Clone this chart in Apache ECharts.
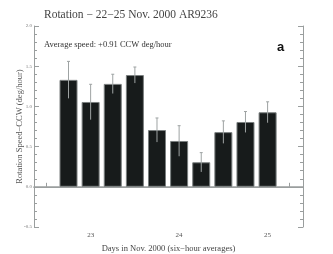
<!DOCTYPE html>
<html><head><meta charset="utf-8">
<script src="https://cdn.jsdelivr.net/npm/echarts@6/dist/echarts.min.js"></script>
<style>html,body{margin:0;padding:0;background:#fff}#c{width:333px;height:254px}</style>
</head><body><div id="c"></div>
<script>
// six-hour averages (day of Nov. 2000)
var days = [22.75, 23.0, 23.25, 23.5, 23.75, 24.0, 24.25, 24.5, 24.75, 25.0];
var speeds = [1.33, 1.055, 1.28, 1.39, 0.706, 0.57, 0.305, 0.68, 0.806, 0.927];
var errors = [0.23, 0.22, 0.12, 0.10, 0.15, 0.19, 0.12, 0.14, 0.13, 0.13];
var yTicks = [-0.5, 0.0, 0.5, 1.0, 1.5, 2.0];
var dayLabels = [23, 24, 25];
var xTicks = [22.5, 22.75, 23, 23.25, 23.5, 23.75, 24, 24.25, 24.5, 24.75, 25, 25.25];

var serif = 'Liberation Serif';
var axisGray = '#9a9e9e';
var chart = echarts.init(document.getElementById('c'), null, {renderer: 'canvas'});
var barData = days.map(function (d, i) { return [d, speeds[i]]; });
var errData = days.map(function (d, i) { return [d, speeds[i] - errors[i], speeds[i] + errors[i]]; });

chart.setOption({
  animation: false,
  title: [
    {text: 'Rotation \u2212 22\u221225 Nov. 2000 AR9236', left: 39, top: 4,
     textStyle: {fontFamily: serif, fontSize: 11.5, fontWeight: 'normal', color: '#444'}},
    {text: 'Average speed: +0.91 CCW deg/hour', left: 39, top: 35,
     textStyle: {fontFamily: serif, fontSize: 8.5, fontWeight: 'normal', color: '#333'}},
    {text: 'a', left: 272, top: 36,
     textStyle: {fontFamily: 'Liberation Sans', fontSize: 13, fontWeight: 'bold', color: '#111'}}
  ],
  grid: {left: 34, right: 30, top: 26, bottom: 27, containLabel: false, outerBoundsMode: 'none'},
  xAxis: [{
    type: 'value', min: 22.36, max: 25.4, position: 'bottom',
    name: 'Days in Nov. 2000 (six\u2212hour averages)', nameLocation: 'middle', nameGap: 16,
    nameTextStyle: {fontFamily: serif, fontSize: 8.5, color: '#444'},
    axisLine: {lineStyle: {color: axisGray}},
    axisTick: {inside: true, length: 4, customValues: xTicks, lineStyle: {color: axisGray}},
    axisLabel: {customValues: dayLabels, fontFamily: serif, fontSize: 7, color: '#555', margin: 5,
      formatter: function (v) { return String(Math.round(v)); }},
    splitLine: {show: false}
  }, {
    type: 'value', min: 22.36, max: 25.4, position: 'top',
    axisLine: {show: true, lineStyle: {color: axisGray, width: 1.5}},
    axisTick: {show: false}, axisLabel: {show: false}, splitLine: {show: false}
  }],
  yAxis: [{
    type: 'value', min: -0.5, max: 2.0, interval: 0.5, position: 'left',
    name: 'Rotation Speed\u2212CCW (deg/hour)', nameLocation: 'middle', nameGap: 10,
    nameMoveOverlap: false,
    nameTextStyle: {fontFamily: serif, fontSize: 8.5, color: '#555'},
    axisLine: {show: true, lineStyle: {color: axisGray}},
    axisTick: {show: true, inside: true, length: 5, lineStyle: {color: axisGray}},
    minorTick: {show: true, splitNumber: 5, length: 3, lineStyle: {color: axisGray}},
    axisLabel: {fontFamily: serif, fontSize: 5, color: '#777', margin: 2,
      formatter: function (v) { return v.toFixed(1); }},
    splitLine: {show: false}
  }, {
    type: 'value', min: -0.5, max: 2.0, interval: 0.5, position: 'right',
    axisLine: {show: true, lineStyle: {color: axisGray}},
    axisTick: {show: true, inside: true, length: 5, lineStyle: {color: axisGray}},
    minorTick: {show: true, splitNumber: 5, length: 3, lineStyle: {color: axisGray}},
    axisLabel: {show: false}, splitLine: {show: false}
  }],
  series: [{
    type: 'bar', data: barData, barWidth: 18, xAxisIndex: 0, yAxisIndex: 0,
    itemStyle: {color: '#171b1b', borderColor: '#7a7f7f', borderWidth: 1},
    markLine: {silent: true, symbol: 'none', label: {show: false},
      lineStyle: {color: '#9a9e9e', type: 'solid', width: 1}, data: [{yAxis: 0}]},
    z: 2
  }, {
    type: 'custom', data: errData, xAxisIndex: 0, yAxisIndex: 0, z: 3,
    renderItem: function (params, api) {
      var x = api.value(0);
      var lo = api.coord([x, api.value(1)]);
      var hi = api.coord([x, api.value(2)]);
      var st = {stroke: '#9ea3a3', lineWidth: 1};
      return {type: 'group', children: [
        {type: 'line', shape: {x1: hi[0], y1: hi[1], x2: lo[0], y2: lo[1]}, style: st},
        {type: 'line', shape: {x1: hi[0] - 1.5, y1: hi[1], x2: hi[0] + 1.5, y2: hi[1]}, style: st}
      ]};
    }
  }],
  graphic: [{type: 'rect', left: 258, top: 24, shape: {width: 19, height: 4}, style: {fill: '#fff'}, z: 100}]
});
</script></body></html>
